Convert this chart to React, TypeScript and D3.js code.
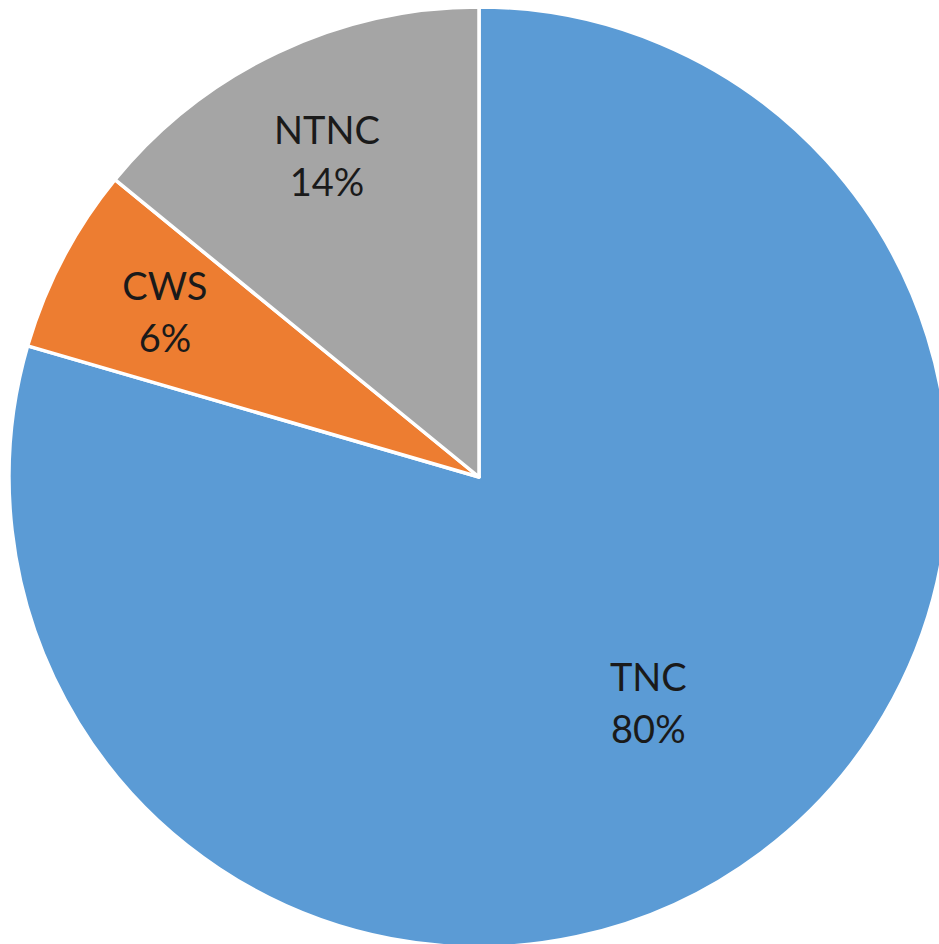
import React, { useRef, useEffect } from "react";
import * as d3 from "d3";

const categories = ["TNC", "CWS", "NTNC"];
const values = [79.5, 6.4, 14.1];
const colors = ["#5B9BD5", "#ED7D31", "#A5A5A5"];

const W = 939;
const H = 944;

const App = () => {
  const svgRef = useRef<SVGSVGElement>(null);

  useEffect(() => {
    const svg = d3.select(svgRef.current);
    svg.selectAll("*").remove();

    const cx = 479;
    const cy = 477;
    const radius = 470;

    const data = categories.map((c, i) => ({ label: c, value: values[i], color: colors[i] }));
    const total = d3.sum(values);

    const pie = d3
      .pie<any>()
      .sort(null)
      .value((d) => d.value);

    const arc = d3.arc<any>().innerRadius(0).outerRadius(radius);

    const g = svg.append("g").attr("transform", `translate(${cx},${cy})`);

    const arcs = pie(data);

    g.selectAll("path")
      .data(arcs)
      .enter()
      .append("path")
      .attr("d", arc)
      .attr("fill", (d) => d.data.color)
      .attr("stroke", "#ffffff")
      .attr("stroke-width", 3.5)
      .attr("stroke-linejoin", "round");

    // labels: big slice sits closer in, small ones near the rim
    const labels = g
      .selectAll("text")
      .data(arcs)
      .enter()
      .append("text")
      .attr("transform", (d) => {
        const share = d.data.value / total;
        const r = share > 0.5 ? radius * 0.6 : radius * 0.755;
        const la = d3.arc<any>().innerRadius(r).outerRadius(r);
        const [x, y] = la.centroid(d);
        return `translate(${x},${y})`;
      })
      .attr("text-anchor", "middle")
      .style("font-family", "Lato, 'Open Sans', sans-serif")
      .style("font-size", "38px")
      .attr("fill", "#1a1a1a");

    labels
      .append("tspan")
      .attr("x", 0)
      .attr("y", -12)
      .text((d) => d.data.label);
    labels
      .append("tspan")
      .attr("x", 0)
      .attr("y", 40)
      .text((d) => `${Math.round((d.data.value / total) * 100)}%`);
  }, []);

  return (
    <svg
      ref={svgRef}
      width={W}
      height={H}
      style={{ position: "absolute", left: 0, top: 0, background: "#ffffff" }}
    ></svg>
  );
};

export default App;
